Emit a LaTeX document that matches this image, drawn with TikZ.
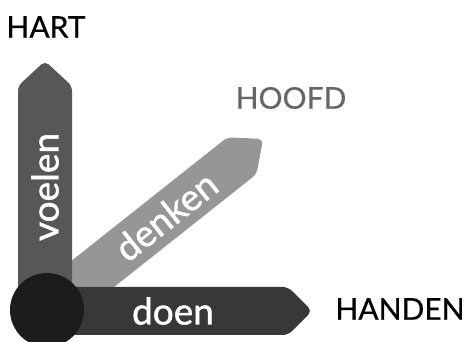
\documentclass[tikz,border=0pt]{standalone}
\usepackage{fontspec}
\setmainfont{Lato}
\newfontfamily\barfont{Lato}[UprightFeatures={FakeBold=1.2}]
\newfontfamily\areafont{Lato}[UprightFeatures={FakeBold=0.6}]
\definecolor{feelgrey}{HTML}{575757}
\definecolor{thinkgrey}{HTML}{969696}
\definecolor{dogrey}{HTML}{383838}
\definecolor{hubblack}{HTML}{1C1C1C}
\definecolor{headgrey}{HTML}{666666}
\tikzset{
  bar/.style={rounded corners=5pt},
  barlabel/.style={text=white, font=\barfont\fontsize{37}{37}\selectfont, inner sep=0pt},
  arealabel/.style={font=\areafont\fontsize{30}{30}\selectfont, inner sep=0pt},
}
\begin{document}
\begin{tikzpicture}[x=1pt,y=1pt]
  \useasboundingbox (0,0) rectangle (468,342);
  \coordinate (O) at (46,31);
  % diagonal arrow: thinking
  \begin{scope}[shift={(O)}, rotate=38.4]
    \fill[thinkgrey, bar] (0,-23.5) -- (250,-23.5) -- (277,0) -- (250,23.5) -- (0,23.5) -- cycle;
    \node[barlabel, rotate=38.4] (denken) at (153,0) {denken};
  \end{scope}
  % vertical arrow: feeling
  \fill[feelgrey, bar] (18,31) -- (18,256) -- (45,281) -- (72,256) -- (72,31) -- cycle;
  \node[barlabel, rotate=90] (voelen) at (45,155) {voelen};
  % horizontal arrow: doing
  \fill[dogrey, bar] (46,7) -- (288,7) -- (312,31) -- (288,55) -- (46,55) -- cycle;
  \node[barlabel] (doen) at (173,31) {doen};
  % common origin
  \fill[hubblack] (47,32) circle[radius=37];
  % area labels
  \node[arealabel] (hart) at (46,315) {HART};
  \node[arealabel, text=headgrey] (hoofd) at (291,244) {HOOFD};
  \node[arealabel] (handen) at (400,33) {HANDEN};
\end{tikzpicture}
\end{document}
